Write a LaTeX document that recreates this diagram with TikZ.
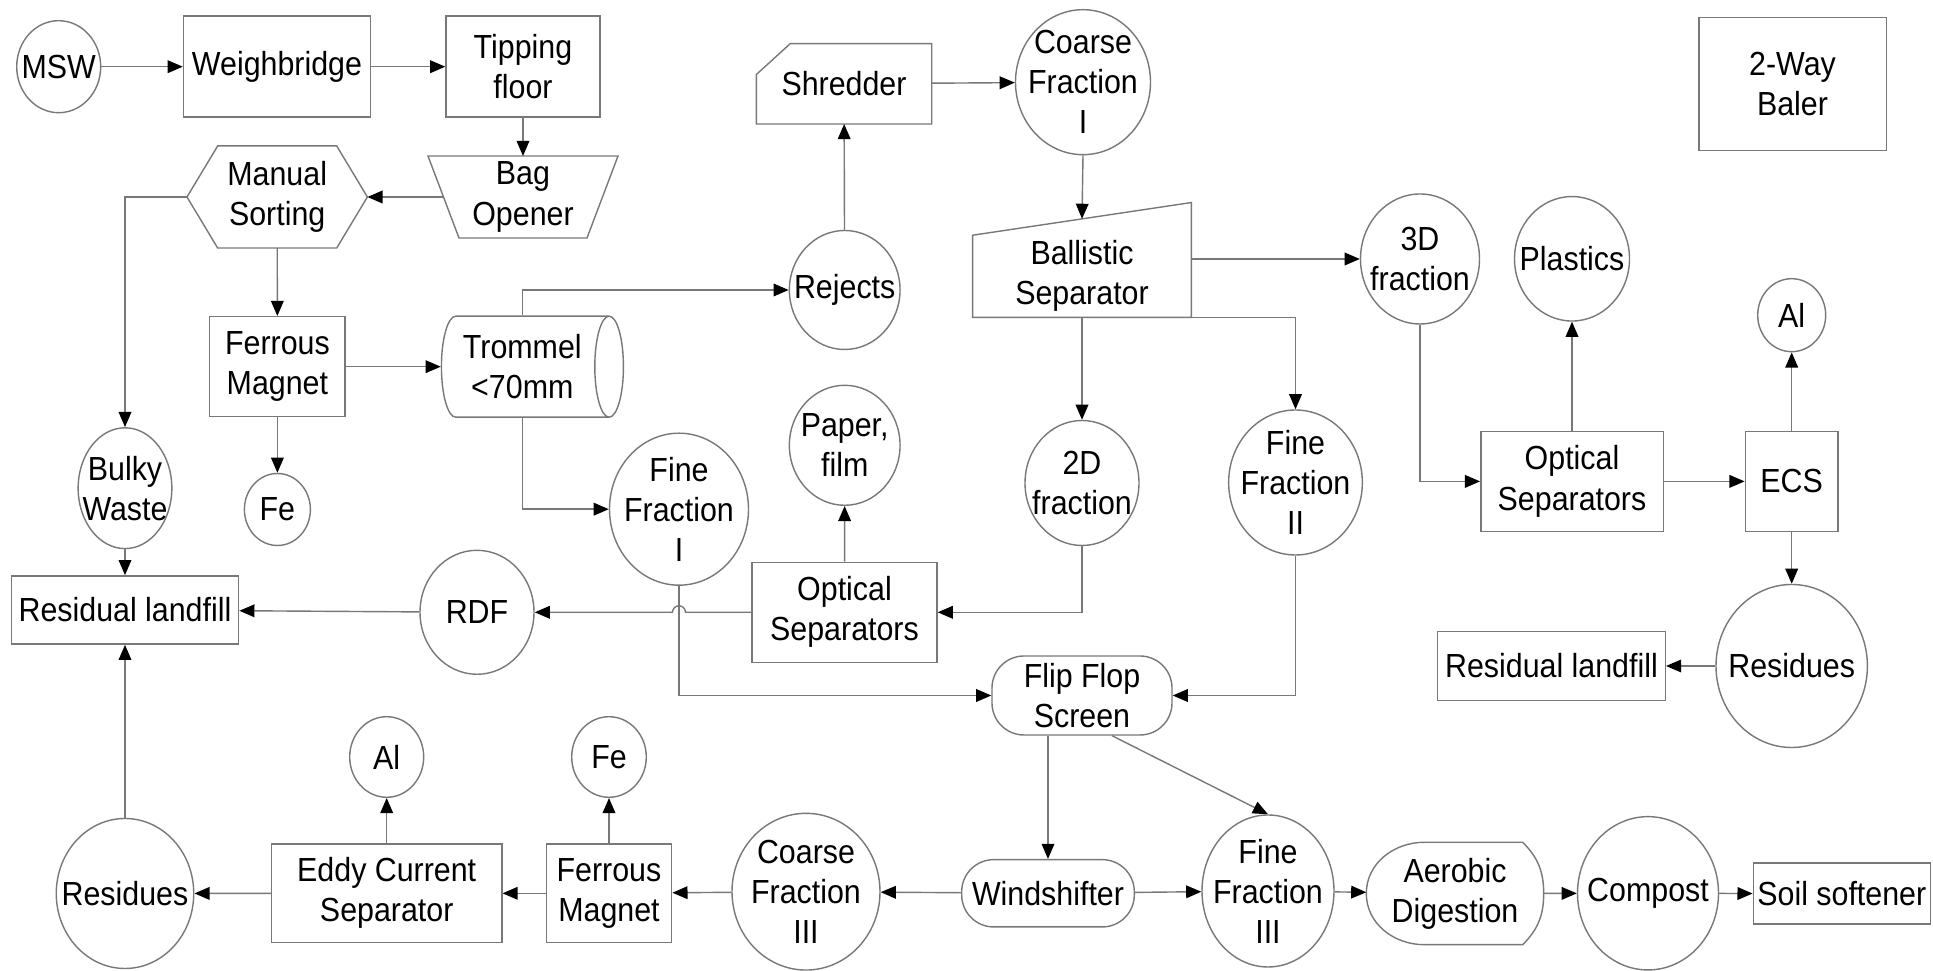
\documentclass[tikz,border=0pt]{standalone}
\usepackage{fontspec}
\setmainfont{Liberation Sans}[FakeStretch=0.91]
\usetikzlibrary{shapes.geometric,arrows.meta}
\pgfdeclarelayer{edgelayer}
\pgfdeclarelayer{nodelayer}
\pgfsetlayers{edgelayer,nodelayer,main}
\definecolor{linegray}{RGB}{120,120,120}
\tikzstyle{box}=[rectangle, draw=linegray, fill=white, align=center, inner sep=1pt, font=\fontsize{9.5}{11.4}\selectfont]
\tikzstyle{stream}=[ellipse, draw=linegray, fill=white, align=center, inner sep=-3mm, font=\fontsize{9.5}{11.4}\selectfont]
\tikzstyle{roundbox}=[rectangle, rounded corners=0.32cm, draw=linegray, fill=white, align=center, inner sep=1pt, font=\fontsize{9.5}{11.4}\selectfont]
\tikzstyle{drum}=[cylinder, aspect=0.4, draw=linegray, fill=white, align=center, inner sep=1pt, font=\fontsize{9.5}{11.4}\selectfont]
\tikzstyle{frame}=[rectangle, align=center, inner sep=1pt, font=\fontsize{9.5}{11.4}\selectfont]
\tikzstyle{outline}=[draw=linegray]
\tikzstyle{flow}=[draw=linegray, -{Triangle[black, length=4.3pt, width=3.6pt]}]

\begin{document}
\begin{tikzpicture}
	\useasboundingbox (0, 0) rectangle (19.33, -9.71);
	\begin{pgfonlayer}{nodelayer}
		\node [style=stream, minimum width=0.84cm, minimum height=0.92cm] (0) at (0.587, -0.667) {MSW};
		\node [style=box, minimum width=1.87cm, minimum height=1.01cm] (1) at (2.77, -0.667) {Weighbridge};
		\node [style=box, minimum width=1.54cm, minimum height=1.01cm] (2) at (5.23, -0.667) {Tipping\\floor};
		\node [style=frame, minimum width=1.886cm, minimum height=0.806cm] (3) at (5.23, -1.97) {Bag\\Opener};
		\node [style=frame, minimum width=1.79cm, minimum height=1.007cm] (4) at (2.772, -1.97) {Manual\\Sorting};
		\node [style=box, minimum width=1.356cm, minimum height=1.0cm] (5) at (2.774, -3.667) {Ferrous\\Magnet};
		\node [style=stream, minimum width=0.66cm, minimum height=0.72cm] (6) at (2.774, -5.095) {Fe};
		\node [style=drum, minimum width=1.01cm, minimum height=1.82cm] (7) at (5.223, -3.667) {Trommel\\<70mm};
		\node [style=stream, minimum width=0.937cm, minimum height=1.208cm] (8) at (1.25, -4.882) {Bulky\\Waste};
		\node [style=box, minimum width=2.273cm, minimum height=0.683cm] (9) at (1.25, -6.10) {Residual landfill};
		\node [style=stream, minimum width=1.107cm, minimum height=1.19cm] (10) at (8.447, -2.90) {Rejects};
		\node [style=frame, minimum width=1.74cm, minimum height=0.79cm] (11) at (8.44, -0.838) {Shredder};
		\node [style=stream, minimum width=1.35cm, minimum height=1.45cm] (12) at (10.83, -0.822) {Coarse\\Fraction\\I};
		\node [style=frame, minimum width=2.174cm, minimum height=0.807cm] (13) at (10.82, -2.763) {Ballistic\\Separator};
		\node [style=stream, minimum width=1.19cm, minimum height=1.30cm] (14) at (14.20, -2.59) {3D\\fraction};
		\node [style=stream, minimum width=1.14cm, minimum height=1.25cm] (15) at (10.82, -4.83) {2D\\fraction};
		\node [style=stream, minimum width=1.337cm, minimum height=1.45cm] (16) at (12.955, -4.825) {Fine\\Fraction\\II};
		\node [style=stream, minimum width=1.39cm, minimum height=1.52cm] (17) at (6.79, -5.092) {Fine\\Fraction\\I};
		\node [style=stream, minimum width=1.107cm, minimum height=1.2cm] (18) at (8.447, -4.453) {Paper,\\film};
		\node [style=box, minimum width=1.85cm, minimum height=1.0cm] (19) at (8.445, -6.123) {Optical\\Separators};
		\node [style=stream, minimum width=1.14cm, minimum height=1.24cm] (20) at (4.77, -6.123) {RDF};
		\node [style=box, minimum width=1.824cm, minimum height=1.0cm] (21) at (15.72, -4.814) {Optical\\Separators};
		\node [style=stream, minimum width=1.15cm, minimum height=1.245cm] (22) at (15.72, -2.588) {Plastics};
		\node [style=box, minimum width=0.928cm, minimum height=1.0cm] (23) at (17.917, -4.814) {ECS};
		\node [style=stream, minimum width=0.68cm, minimum height=0.73cm] (24) at (17.917, -3.152) {Al};
		\node [style=stream, minimum width=1.514cm, minimum height=1.63cm] (25) at (17.917, -6.66) {Residues};
		\node [style=box, minimum width=2.277cm, minimum height=0.69cm] (26) at (15.515, -6.66) {Residual landfill};
		\node [style=box, minimum width=1.874cm, minimum height=1.331cm] (27) at (17.925, -0.838) {2-Way\\Baler};
		\node [style=roundbox, minimum width=1.80cm, minimum height=0.79cm] (28) at (10.82, -6.955) {Flip Flop\\Screen};
		\node [style=roundbox, minimum width=1.726cm, minimum height=0.673cm] (29) at (10.48, -8.933) {Windshifter};
		\node [style=stream, minimum width=1.32cm, minimum height=1.52cm] (30) at (12.68, -8.91) {Fine\\Fraction\\III};
		\node [style=stream, minimum width=1.48cm, minimum height=1.567cm] (31) at (8.06, -8.917) {Coarse\\Fraction\\III};
		\node [style=box, minimum width=1.254cm, minimum height=0.987cm] (32) at (6.09, -8.933) {Ferrous\\Magnet};
		\node [style=stream, minimum width=0.746cm, minimum height=0.806cm] (33) at (6.09, -7.57) {Fe};
		\node [style=box, minimum width=2.303cm, minimum height=0.987cm] (34) at (3.867, -8.933) {Eddy Current\\Separator};
		\node [style=stream, minimum width=0.74cm, minimum height=0.806cm] (35) at (3.867, -7.57) {Al};
		\node [style=stream, minimum width=1.375cm, minimum height=1.50cm] (36) at (1.25, -8.935) {Residues};
		\node [style=frame, minimum width=1.76cm, minimum height=1.01cm] (37) at (14.55, -8.935) {Aerobic\\Digestion};
		\node [style=stream, minimum width=1.41cm, minimum height=1.533cm] (38) at (16.48, -8.933) {Compost};
		\node [style=box, minimum width=1.77cm, minimum height=0.61cm] (39) at (18.418, -8.937) {Soil softener};
	\end{pgfonlayer}
	\begin{pgfonlayer}{edgelayer}
		\draw [style=outline] (3.north west) -- (3.north east) -- ([xshift=-0.31cm]3.south east) -- ([xshift=0.31cm]3.south west) -- cycle;
		\draw [style=outline] (4.west) -- ([xshift=0.307cm]4.north west) -- ([xshift=-0.307cm]4.north east) -- (4.east) -- ([xshift=-0.307cm]4.south east) -- ([xshift=0.307cm]4.south west) -- cycle;
		\draw [style=outline] ([yshift=-0.31cm]11.north west) -- ([xshift=0.34cm]11.north west) -- (11.north east) -- (11.south east) -- (11.south west) -- cycle;
		\draw [style=outline] (13.south west) -- (13.north west) -- ([yshift=0.327cm]13.north east) -- (13.south east) -- cycle;
		\draw [style=outline] ([xshift=0.58cm]37.north west) -- ([xshift=-0.21cm]37.north east) to [out=-45, in=90] (37.east) to [out=-90, in=45] ([xshift=-0.21cm]37.south east) -- ([xshift=0.58cm]37.south west) to [out=180, in=-90] (37.west) to [out=90, in=180] ([xshift=0.58cm]37.north west);
		\coordinate (40) at (17.south |- 19.west);
		\draw [style=flow] (0) to (1);
		\draw [style=flow] (1) to (2);
		\draw [style=flow] (2) to (3);
		\draw [style=flow] ([xshift=0.155cm]3.west) to (4.east);
		\draw [style=flow] (4.west) -| (8.north);
		\draw [style=flow] (4) to (5);
		\draw [style=flow] (5) to (7);
		\draw [style=flow] (5) to (6);
		\draw [style=flow] (7.north) |- (10.west);
		\draw [style=flow] (7.south) |- (17.west);
		\draw [style=flow] (10) to (11);
		\draw [style=flow] (11) to (12);
		\draw [style=flow] (12.south) to ([yshift=0.164cm]13.north);
		\draw [style=flow] (13.east |- 14) to (14);
		\draw [style=flow] (13.south) to (15.north);
		\draw [style=flow] (13.south east) -| (16.north);
		\draw [style=flow] (14.south) |- (21.west);
		\draw [style=flow] (21) to (22);
		\draw [style=flow] (21) to (23);
		\draw [style=flow] (23) to (24);
		\draw [style=flow] (23) to (25);
		\draw [style=flow] (25) to (26);
		\draw [style=flow] (8) to (9);
		\draw [style=flow] (15.south) |- (19.east);
		\draw [style=flow] (19) to (18);
		\draw [style=flow] (19.west) -- ([xshift=0.065cm]40) arc (0:180:0.065cm) -- (20);
		\draw [style=flow] (20) to (9);
		\draw [style=flow] (17.south) |- (28.west);
		\draw [style=flow] (16.south) |- (28.east);
		\draw [style=flow] (29.north |- 28.south) to (29.north);
		\draw [style=flow] ([xshift=0.3cm]28.south) to (30.north);
		\draw [style=flow] (29) to (31);
		\draw [style=flow] (29) to (30);
		\draw [style=flow] (30) to (37);
		\draw [style=flow] (37) to (38);
		\draw [style=flow] (38) to (39);
		\draw [style=flow] (31) to (32);
		\draw [style=flow] (32) to (33);
		\draw [style=flow] (32) to (34);
		\draw [style=flow] (34) to (35);
		\draw [style=flow] (34) to (36);
		\draw [style=flow] (36) to (9);
	\end{pgfonlayer}
\end{tikzpicture}
\end{document}
